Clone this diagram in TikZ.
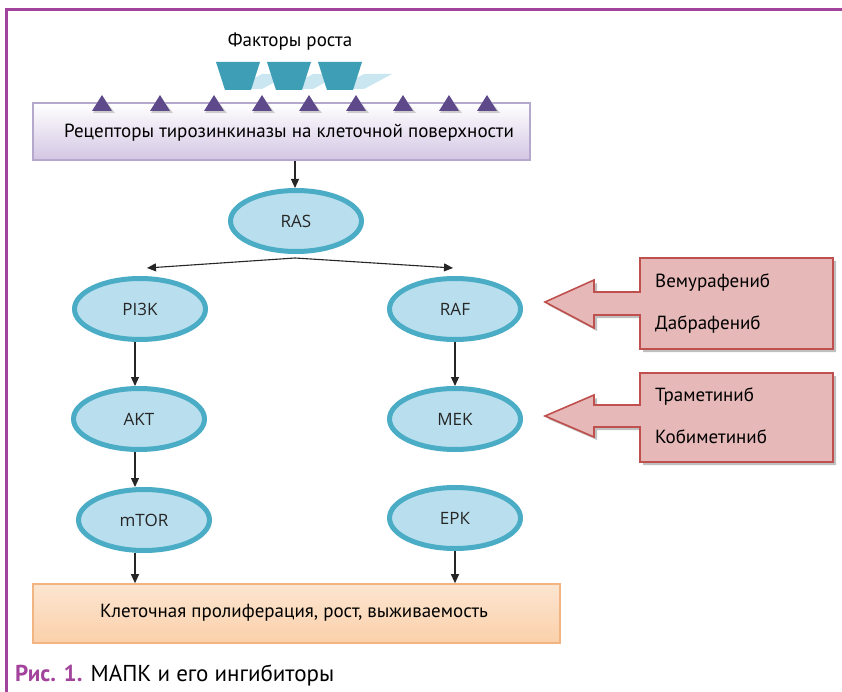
\documentclass[tikz,border=0pt]{standalone}
\usepackage{fontspec}
\setmainfont{PT Sans}
\newfontfamily\nodefont{Open Sans}
\usetikzlibrary{shapes.geometric,arrows.meta,calc}
\definecolor{framec}{HTML}{A3449C}
\definecolor{ellline}{HTML}{4BACC6}
\definecolor{ellfill}{HTML}{B9DFEE}
\definecolor{triang}{HTML}{5E4A8B}
\definecolor{recedge}{HTML}{B4A8CC}
\definecolor{recbot}{HTML}{D3C6E4}
\definecolor{peach}{HTML}{FAD0AA}
\definecolor{peachedge}{HTML}{F2B582}
\definecolor{drugfill}{HTML}{E6B9B8}
\definecolor{drugedge}{HTML}{C0504D}
\definecolor{tealmid}{HTML}{3E9EB6}
\definecolor{shadowblue}{HTML}{C9E6F1}
\tikzset{
  cell/.style={ellipse, draw=ellline, line width=5pt, fill=ellfill,
    minimum width=131pt, minimum height=61pt, inner sep=0pt,
    font=\nodefont\fontsize{17}{20}\selectfont, text=black!85},
  flow/.style={draw=black!85, line width=1.1pt, -{Triangle[length=9pt,width=8pt]}},
  lbl/.style={font=\fontsize{19}{22}\selectfont, inner sep=0pt},
  druglbl/.style={font=\fontsize{19}{22}\selectfont, inner sep=0pt, anchor=west},
  drugbox/.style={fill=drugfill, draw=drugedge, line width=1.6pt, line join=miter},
  drugshadow/.style={fill=black!25, draw=none},
  recept/.style={fill=triang},
  ligand/.style={fill=tealmid},
  recbox/.style={draw=recedge, line width=2pt, top color=white, bottom color=recbot,
    minimum width=497pt, minimum height=57pt, inner sep=0pt, font=\fontsize{19}{22}\selectfont},
  outbox/.style={draw=peachedge, line width=1.6pt, top color=peach!55, middle color=white!85!peach, bottom color=peach,
    minimum width=527pt, minimum height=59pt, inner sep=0pt, font=\fontsize{19}{22}\selectfont},
}
\begin{document}
\begin{tikzpicture}[x=1pt,y=-1pt]
\useasboundingbox (0,0) rectangle (842,692);
% frame
\draw[framec, line width=3pt] (842,10) -- (6,10) -- (6,692);

% growth factors
\node[lbl] (gf) at (290,42) {Факторы роста};
\foreach \c in {238,289,340}{
  \fill[shadowblue] (\c-4,89) -- (\c+24,74) -- (\c+52,74) -- (\c+24,89) -- cycle;
}
\foreach \c in {238,289,340}{
  \fill[ligand] (\c-22,62) -- (\c+22,62) -- (\c+13,90) -- (\c-13,90) -- cycle;
}

% receptor box
\node[recbox] (rec) at (281.5,131.5) {};
\node[lbl] (rectext) at (289,133) {Рецепторы тирозинкиназы на клеточной поверхности};
\foreach \x in {102,160,214,262,309,356,403,449,487}{
  \fill[black!20] (\x+2,99) -- (\x+13,113) -- (\x-9,113) -- cycle;
  \fill[recept] (\x,95) -- (\x+10,111) -- (\x-10,111) -- cycle;
}

% pathway nodes
\node[cell] (ras)  at (296,221) {RAS};
\node[cell] (pi3k) at (140,309) {PI3K};
\node[cell] (raf)  at (455,309) {RAF};
\node[cell] (akt)  at (139,419) {AKT};
\node[cell] (mek)  at (455,419) {MEK};
\node[cell] (mtor) at (144,520) {mTOR};
\node[cell] (erk)  at (455,518) {ЕРК};

% output box
\node[outbox] (out) at (296.5,613.5) {};
\node[lbl] (outtext) at (294,613) {Клеточная пролиферация, рост, выживаемость};

% connectors
\coordinate (lx) at (135,0);
\coordinate (rx) at (455,0);
\coordinate (cx) at (295,0);
\coordinate (fork) at (295,258);
\draw[flow] (rec.south -| cx) -- (ras.north -| cx);
\draw[flow] (fork) -- (147,268);
\draw[flow] (fork) -- (453,268);
\draw[flow] (pi3k.south -| lx) -- (akt.north -| lx);
\draw[flow] (akt.south -| lx) -- (mtor.north -| lx);
\draw[flow] (mtor.south -| lx) -- (out.north -| lx);
\draw[flow] (raf.south -| rx) -- (mek.north -| rx);
\draw[flow] (erk.south -| rx) -- (out.north -| rx);

% drug block arrows
\fill[drugshadow] (643,261) -- (836,261) -- (836,352) -- (643,352) -- (643,318) -- (597,318) -- (597,331) -- (548,305) -- (597,283) -- (597,295) -- (643,295) -- cycle;
\path[drugbox] (640,258) -- (833,258) -- (833,349) -- (640,349) -- (640,315) -- (594,315) -- (594,328) -- (545,302) -- (594,280) -- (594,292) -- (640,292) -- cycle;
\node[druglbl] (vem) at (655,283) {Вемурафениб};
\node[druglbl] (dab) at (655,325) {Дабрафениб};

\fill[drugshadow] (643,376) -- (836,376) -- (836,465) -- (643,465) -- (643,430) -- (597,430) -- (597,440) -- (548,419) -- (597,398) -- (597,408) -- (643,408) -- cycle;
\path[drugbox] (640,373) -- (833,373) -- (833,462) -- (640,462) -- (640,427) -- (594,427) -- (594,437) -- (545,416) -- (594,395) -- (594,405) -- (640,405) -- cycle;
\node[druglbl] (tra) at (655,397) {Траметиниб};
\node[druglbl] (kob) at (655,437) {Кобиметиниб};

% caption
\node[anchor=west, inner sep=0pt, font=\fontsize{23}{26}\selectfont] (cap) at (15,675) {\textcolor{framec}{\bfseries Рис. 1.} МАПК и его ингибиторы};
\end{tikzpicture}
\end{document}
